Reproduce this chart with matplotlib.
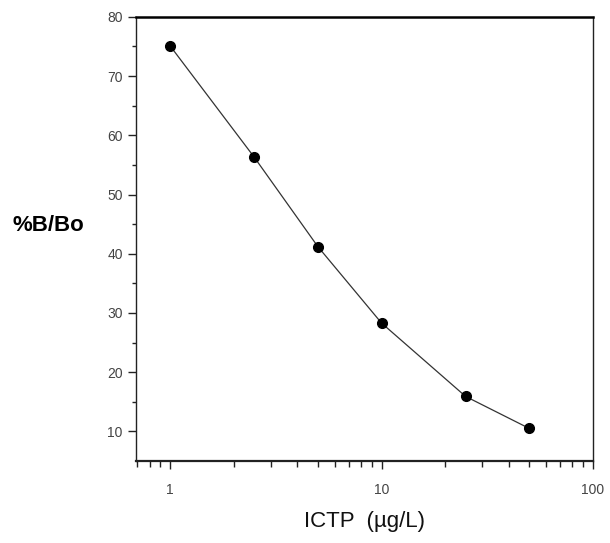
import numpy as np
import matplotlib.pyplot as plt
from matplotlib.ticker import FixedLocator, NullFormatter

plt.rcParams['font.family'] = ['Liberation Sans', 'DejaVu Sans']

# standard curve values
conc = [1, 2.5, 5, 10, 25, 50]
pct_b_bo = [75.1, 56.3, 41.2, 28.3, 15.9, 10.5]

y_ticks = [10, 20, 30, 40, 50, 60, 70, 80]
x_ticks = [1, 10, 100]
x_tick_labels = ['1', '10', '100']

fig = plt.figure(figsize=(6.10, 5.43), dpi=100)
ax = fig.add_axes([0.223, 0.151, 0.749, 0.818])

ax.plot(conc, pct_b_bo, color='#333333', lw=0.9)
ax.plot(conc, pct_b_bo, 'o', color='black', ms=7)

ax.set_xscale('log')
ax.set_xlim(0.69, 100)
ax.set_ylim(5, 80)

ax.xaxis.set_major_locator(FixedLocator(x_ticks))
ax.set_xticklabels(x_tick_labels)
minor_x = [m * d for d in (1, 10) for m in range(2, 10)] + [0.7, 0.8, 0.9]
ax.xaxis.set_minor_locator(FixedLocator(minor_x))
ax.xaxis.set_minor_formatter(NullFormatter())
ax.set_yticks(y_ticks)
ax.set_yticks([15, 25, 35, 45, 55, 65, 75], minor=True)

ax.tick_params(axis='both', which='major', direction='out', length=6,
               width=1.0, labelsize=10, labelcolor='#444444', color='#222222')
ax.tick_params(axis='x', which='minor', direction='out', length=4,
               width=1.0, color='#222222')
ax.tick_params(axis='y', which='minor', direction='out', length=3,
               width=1.0, color='#222222')
ax.tick_params(axis='x', pad=10)

for side in ['left', 'right', 'bottom']:
    ax.spines[side].set_linewidth(1.0)
    ax.spines[side].set_color('#222222')
ax.spines['top'].set_linewidth(1.8)
ax.spines['bottom'].set_linewidth(1.6)

ax.set_xlabel('ICTP  (µg/L)', fontsize=16, labelpad=10, color='#111111')
fig.text(0.02, 0.585, '%B/Bo', fontsize=16, fontweight='bold',
         ha='left', va='center')

fig.savefig('out.png', dpi=100)
